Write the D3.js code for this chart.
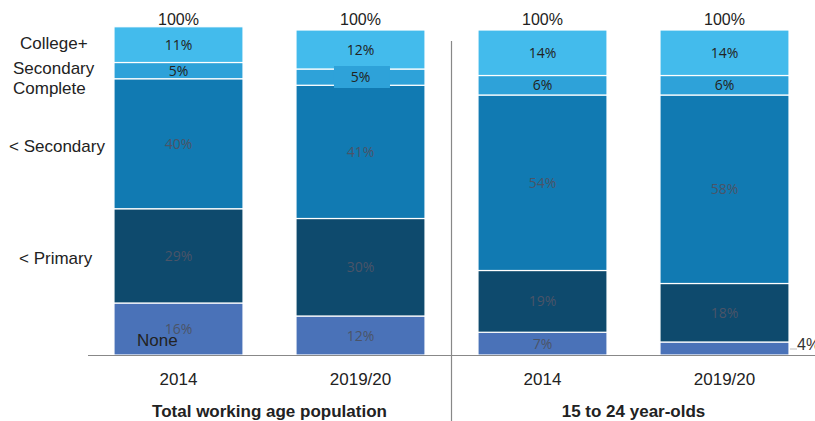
<!DOCTYPE html>
<html>
<head>
<meta charset="utf-8">
<script src="https://cdn.jsdelivr.net/npm/d3@7"></script>
<style>
  body { margin: 0; background: #fff; }
  svg { display: block; }
</style>
</head>
<body>
<svg id="chart"></svg>
<script>
// bars, left to right
const bars = ['a2014', 'a2019', 'y2014', 'y2019'];
const barLabels = ['2014', '2019/20', '2014', '2019/20'];
const groups = ['Total working age population', '15 to 24 year-olds'];

// series, bottom to top
const series = ['None', 'Primary', 'Secondary', 'SecComplete', 'College'];
const seriesLabels = [['None'], ['< Primary'], ['< Secondary'], ['Secondary', 'Complete'], ['College+']];

const none        = [16, 12, 7, 4];
const primary     = [29, 30, 19, 18];
const secondary   = [40, 41, 54, 58];
const secComplete = [5, 5, 6, 6];
const college     = [11, 12, 14, 14];
const totals      = ['100%', '100%', '100%', '100%'];

const colors = ['#4a72b8', '#0e4a6d', '#117ab2', '#2ea2d9', '#43bbec'];
const labelColors = ['#4a5468', '#4a5468', '#4a5468', '#222', '#222'];

const W = 815, H = 421;
const svg = d3.select('#chart').attr('width', W).attr('height', H);

const rows = bars.map((b, i) => ({
  bar: b,
  None: none[i], Primary: primary[i], Secondary: secondary[i],
  SecComplete: secComplete[i], College: college[i]
}));
const stacked = d3.stack().keys(series)(rows);

const x = d3.scaleBand().domain(bars).range([87.5, 815.5])
  .paddingInner(0.291).paddingOuter(0.1455);
const y = d3.scaleLinear().domain([0, 100]).range([355, 30]);

// stacked segments
const layer = svg.selectAll('g.layer')
  .data(stacked)
  .enter().append('g')
  .attr('class', 'layer')
  .attr('fill', (d, i) => colors[i]);

layer.selectAll('rect')
  .data(d => d)
  .enter().append('rect')
  .attr('x', d => x(d.data.bar))
  .attr('y', d => y(d[1]))
  .attr('width', x.bandwidth())
  .attr('height', d => y(d[0]) - y(d[1]))
  .attr('stroke', '#fff')
  .attr('stroke-width', 1.2);

// box behind the 5% label of the 2019/20 bar
svg.append('rect')
  .attr('x', x('a2019') + 38)
  .attr('y', y(stacked[3][1][1]) - 3)
  .attr('width', 56)
  .attr('height', 22)
  .attr('fill', colors[3]);

// segment labels
stacked.forEach((s, si) => {
  s.forEach((d, bi) => {
    if (si === 0 && bi === 3) return; // drawn outside
    svg.append('text')
      .attr('x', x(d.data.bar) + x.bandwidth() / 2)
      .attr('y', (y(d[0]) + y(d[1])) / 2 + 5)
      .attr('text-anchor', 'middle')
      .attr('font-family', '"Open Sans", sans-serif')
      .attr('font-size', 14)
      .attr('fill', labelColors[si])
      .text(d.data[series[si]] + '%');
  });
});

// 4% label outside the last bar, with a little leader
const last = stacked[0][3];
const lx = x('y2019') + x.bandwidth();
svg.append('line')
  .attr('x1', lx + 1).attr('x2', lx + 8)
  .attr('y1', y(0) - 6).attr('y2', y(0) - 6)
  .attr('stroke', '#bbb');
svg.append('text')
  .attr('x', lx + 8)
  .attr('y', y(0) - 5)
  .attr('font-family', '"Liberation Sans", Arial, sans-serif')
  .attr('font-size', 16)
  .attr('fill', '#333')
  .text(none[3] + '%');

// totals
svg.selectAll('text.total')
  .data(bars)
  .enter().append('text')
  .attr('class', 'total')
  .attr('x', d => x(d) + x.bandwidth() / 2)
  .attr('y', 25)
  .attr('text-anchor', 'middle')
  .attr('font-family', '"Liberation Sans", Arial, sans-serif')
  .attr('font-size', 16)
  .attr('fill', '#222')
  .text((d, i) => totals[i]);

// baseline + separator
svg.append('line')
  .attr('x1', 88).attr('x2', W)
  .attr('y1', y(0) + 0.5).attr('y2', y(0) + 0.5)
  .attr('stroke', '#888').attr('stroke-width', 1.2);
const sepX = (x('a2019') + x.bandwidth() + x('y2014')) / 2;
svg.append('line')
  .attr('x1', sepX).attr('x2', sepX)
  .attr('y1', 41).attr('y2', H)
  .attr('stroke', '#888').attr('stroke-width', 1.2);

// bar labels
svg.selectAll('text.cat')
  .data(bars)
  .enter().append('text')
  .attr('class', 'cat')
  .attr('x', d => x(d) + x.bandwidth() / 2)
  .attr('y', 385)
  .attr('text-anchor', 'middle')
  .attr('font-family', '"Liberation Sans", Arial, sans-serif')
  .attr('font-size', 17)
  .attr('fill', '#222')
  .text((d, i) => barLabels[i]);

// group labels
groups.forEach((g, i) => {
  const a = bars[i * 2], b = bars[i * 2 + 1];
  svg.append('text')
    .attr('x', (x(a) + x(b) + x.bandwidth()) / 2)
    .attr('y', 417)
    .attr('text-anchor', 'middle')
    .attr('font-family', '"Liberation Sans", Arial, sans-serif')
    .attr('font-size', 17)
    .attr('font-weight', 'bold')
    .attr('fill', '#222')
    .text(g);
});

// series names on the left (positions copied from the original slide)
const nameSpots = [
  { x: 137, y: 346 },
  { x: 19, y: 264 },
  { x: 9, y: 152 },
  { x: 13, y: 74 },
  { x: 20, y: 49 }
];
seriesLabels.forEach((lines, i) => {
  const t = svg.append('text')
    .attr('x', nameSpots[i].x)
    .attr('y', nameSpots[i].y)
    .attr('font-family', '"Liberation Sans", Arial, sans-serif')
    .attr('font-size', 17)
    .attr('fill', '#222');
  lines.forEach((l, j) => {
    t.append('tspan')
      .attr('x', nameSpots[i].x)
      .attr('dy', j === 0 ? 0 : 20)
      .text(l);
  });
});
</script>
</body>
</html>
